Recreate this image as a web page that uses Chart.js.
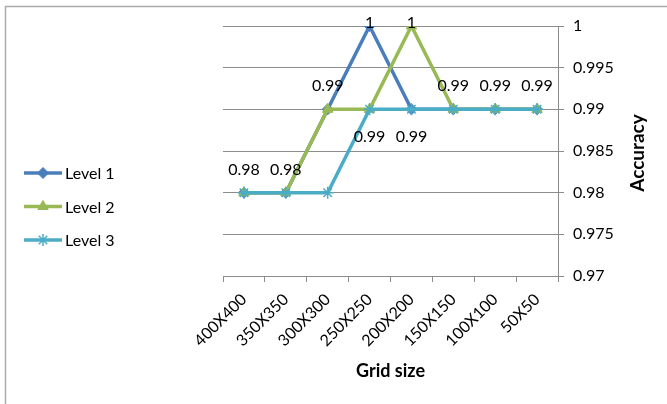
<!DOCTYPE html>
<html>
<head>
<meta charset="utf-8">
<script src="https://cdn.jsdelivr.net/npm/chart.js@4/dist/chart.umd.min.js"></script>
<style>
  html, body { margin: 0; padding: 0; background: #ffffff; }
  #wrap { width: 667px; height: 404px; position: relative; }
</style>
</head>
<body>
<div id="wrap"><canvas id="chart" width="667" height="404"></canvas></div>
<script>
// Grid sizes along the horizontal axis
const categories = ['400X400', '350X350', '300X300', '250X250', '200X200', '150X150', '100X100', '50X50'];

// Accuracy per grid size for each level
const level1 = [0.98, 0.98, 0.99, 1, 0.99, 0.99, 0.99, 0.99];
const level2 = [0.98, 0.98, 0.99, 0.99, 1, 0.99, 0.99, 0.99];
const level3 = [0.98, 0.98, 0.98, 0.99, 0.99, 0.99, 0.99, 0.99];

// Accuracy axis range
const yMin = 0.97;
const yMax = 1;
const yStep = 0.005;

const seriesNames = ['Level 1', 'Level 2', 'Level 3'];

const FONT = 'Lato, "Open Sans", "Liberation Sans", sans-serif';
const COLORS = ['#4A7EBB', '#98B954', '#4BACC6'];
const STYLES = ['rectRot', 'triangle', 'star'];
const RADII = [5.5, 6, 6];

// Which points carry a value label: [dataset, index, placement]
const valueLabels = [
  [0, 0, 'above'], [0, 1, 'above'], [0, 2, 'above'], [0, 3, 'above'],
  [0, 4, 'below'], [0, 5, 'above'], [0, 6, 'above'], [0, 7, 'above'],
  [1, 3, 'below'], [1, 4, 'above']
];

function fmt(v) {
  return String(Number(v.toFixed(4)));
}

// Frame lines along the top and left edges
const framePlugin = {
  id: 'frame',
  beforeDraw(chart) {
    const ctx = chart.ctx;
    ctx.save();
    ctx.strokeStyle = '#aaaaaa';
    ctx.lineWidth = 1.5;
    ctx.beginPath();
    ctx.moveTo(5.5, chart.height);
    ctx.lineTo(5.5, 6.5);
    ctx.lineTo(chart.width, 6.5);
    ctx.stroke();
    ctx.restore();
  }
};

// Value labels next to the points
const valueLabelPlugin = {
  id: 'valueLabels',
  afterDatasetsDraw(chart) {
    const ctx = chart.ctx;
    const top = chart.chartArea.top;
    ctx.save();
    ctx.font = '16px ' + FONT;
    ctx.fillStyle = '#000000';
    ctx.textAlign = 'center';
    ctx.textBaseline = 'middle';
    valueLabels.forEach(([d, i, place]) => {
      const pt = chart.getDatasetMeta(d).data[i];
      const v = chart.data.datasets[d].data[i];
      const y = place === 'above' ? Math.max(pt.y - 23, top - 3) : pt.y + 28;
      ctx.fillText(fmt(v), pt.x, y);
    });
    ctx.restore();
  }
};

// Series key on the left, and the rotated accuracy title
const sideTextPlugin = {
  id: 'sideText',
  afterDraw(chart) {
    const ctx = chart.ctx;
    const H = Chart.helpers;
    ctx.save();
    chart.data.datasets.forEach((ds, k) => {
      const y = 173 + k * 33.5;
      ctx.strokeStyle = ds.borderColor;
      ctx.lineWidth = 3.5;
      ctx.beginPath();
      ctx.moveTo(24, y);
      ctx.lineTo(62, y);
      ctx.stroke();
      ctx.fillStyle = ds.pointBackgroundColor;
      ctx.strokeStyle = ds.pointBorderColor;
      ctx.lineWidth = ds.pointBorderWidth;
      H.drawPoint(ctx, { pointStyle: ds.pointStyle, radius: ds.pointRadius, rotation: 0, borderWidth: ds.pointBorderWidth }, 43, y);
      ctx.fillStyle = '#000000';
      ctx.font = '16px ' + FONT;
      ctx.textAlign = 'left';
      ctx.textBaseline = 'middle';
      ctx.fillText(ds.label, 65, y + 1);
    });
    ctx.translate(638, 153);
    ctx.rotate(-Math.PI / 2);
    ctx.font = 'bold 19px ' + FONT;
    ctx.fillStyle = '#000000';
    ctx.textAlign = 'center';
    ctx.textBaseline = 'middle';
    ctx.fillText('Accuracy', 0, 0);
    ctx.restore();
  }
};

const datasets = [level1, level2, level3].map((vals, k) => ({
  label: seriesNames[k],
  data: vals,
  borderColor: COLORS[k],
  backgroundColor: COLORS[k],
  pointBackgroundColor: COLORS[k],
  pointBorderColor: COLORS[k],
  pointStyle: STYLES[k],
  pointRadius: RADII[k],
  pointBorderWidth: k === 2 ? 1.5 : 1,
  borderWidth: 3.5,
  tension: 0,
  order: 2 - k
}));

new Chart(document.getElementById('chart'), {
  type: 'line',
  data: { labels: categories, datasets: datasets },
  plugins: [framePlugin, valueLabelPlugin, sideTextPlugin],
  options: {
    responsive: false,
    animation: false,
    devicePixelRatio: 1,
    layout: { padding: { left: 223, top: 26, right: 0, bottom: 0 } },
    plugins: {
      legend: { display: false },
      tooltip: { enabled: false }
    },
    scales: {
      x: {
        type: 'category',
        offset: true,
        afterFit(scale) { scale.height = 128; },
        grid: {
          offset: true,
          drawOnChartArea: false,
          drawTicks: true,
          tickLength: 6,
          color: '#8c8c8c',
          tickColor: '#8c8c8c'
        },
        border: { display: true, color: '#8c8c8c', width: 1 },
        ticks: {
          autoSkip: false,
          minRotation: 45,
          maxRotation: 45,
          padding: 8,
          color: '#000000',
          font: { family: FONT, size: 16 }
        },
        title: {
          display: true,
          text: 'Grid size',
          color: '#000000',
          font: { family: FONT, size: 18, weight: 'bold' },
          padding: { top: 0, bottom: 22 }
        }
      },
      y: {
        position: 'right',
        min: yMin,
        max: yMax,
        afterFit(scale) { scale.width = 109; },
        grid: {
          drawTicks: true,
          tickLength: 6,
          color: '#8c8c8c',
          tickColor: '#8c8c8c'
        },
        border: { display: true, color: '#8c8c8c', width: 1 },
        ticks: {
          stepSize: yStep,
          padding: 9,
          color: '#000000',
          font: { family: FONT, size: 16 },
          callback: (v) => fmt(v)
        }
      }
    }
  }
});
</script>
</body>
</html>
